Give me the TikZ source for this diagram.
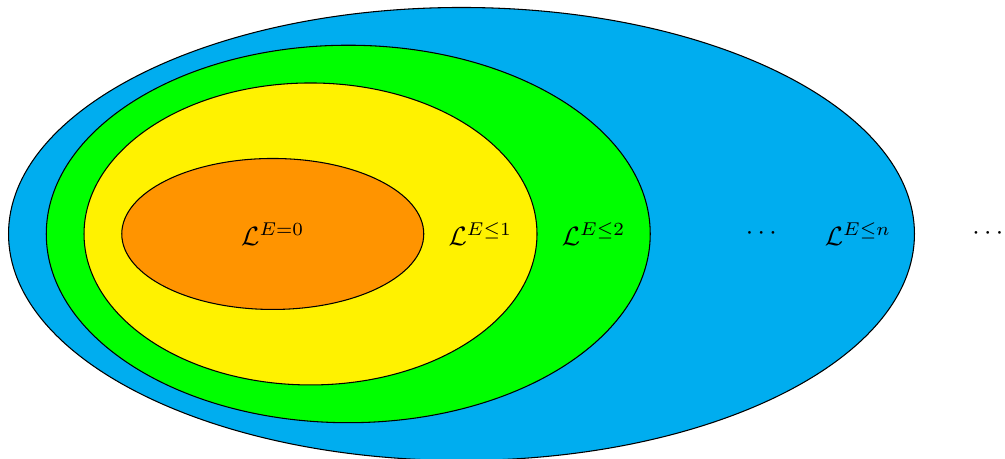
\documentclass[tikz,border=0pt]{standalone}
\usepackage{amsmath,amssymb}

\definecolor{langcyan}{RGB}{0,173,239}
\definecolor{langgreen}{RGB}{0,255,0}
\definecolor{langyellow}{RGB}{255,242,0}
\definecolor{langorange}{RGB}{255,148,0}

\begin{document}
\begin{tikzpicture}[
    region/.style={draw=black, line width=0.4pt},
    lbl/.style={inner sep=1pt, font=\normalsize},
]
    \useasboundingbox (-6.113,-2.980) rectangle (7.199,3.099);

    % nested languages, outermost first
    \filldraw[region, fill=langcyan]   ( 0.0, 0) ellipse (6cm and 3cm);
    \filldraw[region, fill=langgreen]  (-1.5, 0) ellipse (4cm and 2.5cm);
    \filldraw[region, fill=langyellow] (-2.0, 0) ellipse (3cm and 2cm);
    \filldraw[region, fill=langorange] (-2.5, 0) ellipse (2cm and 1cm);

    % labels
    \node[lbl] (l0)    at (-2.5, 0)  {$\mathcal{L}^{E=0}$};
    \node[lbl] (l1)    at ( 0.25, 0) {$\mathcal{L}^{E\leq 1}$};
    \node[lbl] (l2)    at ( 1.75, 0) {$\mathcal{L}^{E\leq 2}$};
    \node[lbl] (dots1) at ( 4.0, 0)  {$\cdots$};
    \node[lbl] (ln)    at ( 5.25, 0) {$\mathcal{L}^{E\leq n}$};
    \node[lbl] (dots2) at ( 7.0, 0)  {$\cdots$};
\end{tikzpicture}
\end{document}
